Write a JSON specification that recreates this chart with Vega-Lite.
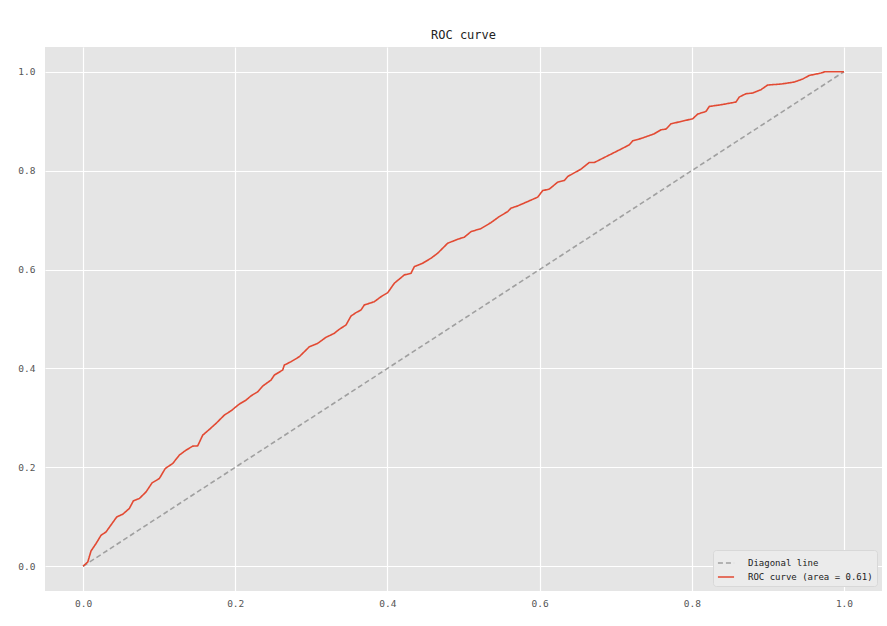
{
  "$schema": "https://vega.github.io/schema/vega-lite/v6.json",
  "width": 837,
  "height": 544,
  "autosize": {"type": "none"},
  "padding": {"left": 45, "top": 47, "right": 5, "bottom": 35},
  "background": "white",
  "title": {"text": "ROC curve", "font": "DejaVu Sans Mono", "fontSize": 12, "fontWeight": "normal", "color": "#222222", "offset": 5},
  "config": {
    "view": {"fill": "#E5E5E5", "stroke": null},
    "axis": {"domain": false, "ticks": false, "grid": true, "gridColor": "#FFFFFF", "gridWidth": 1.2, "labelFont": "DejaVu Sans Mono", "labelFontSize": 9.5, "labelColor": "#555555", "title": null}
  },
  "data": {"values": [
    {"s": "Diagonal line", "fpr": 0, "tpr": 0},
    {"s": "Diagonal line", "fpr": 1, "tpr": 1},
    {"s": "ROC curve (area = 0.61)", "fpr": 0, "tpr": 0},
    {"s": "ROC curve (area = 0.61)", "fpr": 0.0062, "tpr": 0.0087},
    {"s": "ROC curve (area = 0.61)", "fpr": 0.0105, "tpr": 0.031},
    {"s": "ROC curve (area = 0.61)", "fpr": 0.0171, "tpr": 0.046},
    {"s": "ROC curve (area = 0.61)", "fpr": 0.0237, "tpr": 0.0628},
    {"s": "ROC curve (area = 0.61)", "fpr": 0.0302, "tpr": 0.0694},
    {"s": "ROC curve (area = 0.61)", "fpr": 0.0443, "tpr": 0.0998},
    {"s": "ROC curve (area = 0.61)", "fpr": 0.0522, "tpr": 0.1053},
    {"s": "ROC curve (area = 0.61)", "fpr": 0.0608, "tpr": 0.1168},
    {"s": "ROC curve (area = 0.61)", "fpr": 0.0661, "tpr": 0.1322},
    {"s": "ROC curve (area = 0.61)", "fpr": 0.074, "tpr": 0.137},
    {"s": "ROC curve (area = 0.61)", "fpr": 0.0828, "tpr": 0.1504},
    {"s": "ROC curve (area = 0.61)", "fpr": 0.0907, "tpr": 0.1686},
    {"s": "ROC curve (area = 0.61)", "fpr": 0.1003, "tpr": 0.1775},
    {"s": "ROC curve (area = 0.61)", "fpr": 0.1081, "tpr": 0.1978},
    {"s": "ROC curve (area = 0.61)", "fpr": 0.1179, "tpr": 0.2079},
    {"s": "ROC curve (area = 0.61)", "fpr": 0.1265, "tpr": 0.2247},
    {"s": "ROC curve (area = 0.61)", "fpr": 0.1353, "tpr": 0.2348},
    {"s": "ROC curve (area = 0.61)", "fpr": 0.1442, "tpr": 0.2429},
    {"s": "ROC curve (area = 0.61)", "fpr": 0.1507, "tpr": 0.2435},
    {"s": "ROC curve (area = 0.61)", "fpr": 0.1573, "tpr": 0.2652},
    {"s": "ROC curve (area = 0.61)", "fpr": 0.166, "tpr": 0.2767},
    {"s": "ROC curve (area = 0.61)", "fpr": 0.1748, "tpr": 0.2889},
    {"s": "ROC curve (area = 0.61)", "fpr": 0.1857, "tpr": 0.3057},
    {"s": "ROC curve (area = 0.61)", "fpr": 0.1945, "tpr": 0.3144},
    {"s": "ROC curve (area = 0.61)", "fpr": 0.2054, "tpr": 0.3279},
    {"s": "ROC curve (area = 0.61)", "fpr": 0.2142, "tpr": 0.336},
    {"s": "ROC curve (area = 0.61)", "fpr": 0.2208, "tpr": 0.3447},
    {"s": "ROC curve (area = 0.61)", "fpr": 0.2296, "tpr": 0.3528},
    {"s": "ROC curve (area = 0.61)", "fpr": 0.2361, "tpr": 0.3644},
    {"s": "ROC curve (area = 0.61)", "fpr": 0.247, "tpr": 0.3765},
    {"s": "ROC curve (area = 0.61)", "fpr": 0.2514, "tpr": 0.3866},
    {"s": "ROC curve (area = 0.61)", "fpr": 0.2624, "tpr": 0.3968},
    {"s": "ROC curve (area = 0.61)", "fpr": 0.2645, "tpr": 0.4069},
    {"s": "ROC curve (area = 0.61)", "fpr": 0.2733, "tpr": 0.4136},
    {"s": "ROC curve (area = 0.61)", "fpr": 0.2842, "tpr": 0.4237},
    {"s": "ROC curve (area = 0.61)", "fpr": 0.2974, "tpr": 0.4439},
    {"s": "ROC curve (area = 0.61)", "fpr": 0.3084, "tpr": 0.4508},
    {"s": "ROC curve (area = 0.61)", "fpr": 0.3193, "tpr": 0.463},
    {"s": "ROC curve (area = 0.61)", "fpr": 0.3302, "tpr": 0.471},
    {"s": "ROC curve (area = 0.61)", "fpr": 0.3368, "tpr": 0.4792},
    {"s": "ROC curve (area = 0.61)", "fpr": 0.3456, "tpr": 0.4879},
    {"s": "ROC curve (area = 0.61)", "fpr": 0.3522, "tpr": 0.5061},
    {"s": "ROC curve (area = 0.61)", "fpr": 0.3587, "tpr": 0.5128},
    {"s": "ROC curve (area = 0.61)", "fpr": 0.3653, "tpr": 0.5182},
    {"s": "ROC curve (area = 0.61)", "fpr": 0.3696, "tpr": 0.5283},
    {"s": "ROC curve (area = 0.61)", "fpr": 0.3828, "tpr": 0.535},
    {"s": "ROC curve (area = 0.61)", "fpr": 0.3916, "tpr": 0.5451},
    {"s": "ROC curve (area = 0.61)", "fpr": 0.4004, "tpr": 0.5532},
    {"s": "ROC curve (area = 0.61)", "fpr": 0.4091, "tpr": 0.5723},
    {"s": "ROC curve (area = 0.61)", "fpr": 0.4222, "tpr": 0.5891},
    {"s": "ROC curve (area = 0.61)", "fpr": 0.431, "tpr": 0.5925},
    {"s": "ROC curve (area = 0.61)", "fpr": 0.4354, "tpr": 0.6059},
    {"s": "ROC curve (area = 0.61)", "fpr": 0.4464, "tpr": 0.6128},
    {"s": "ROC curve (area = 0.61)", "fpr": 0.4573, "tpr": 0.6229},
    {"s": "ROC curve (area = 0.61)", "fpr": 0.4661, "tpr": 0.633},
    {"s": "ROC curve (area = 0.61)", "fpr": 0.4792, "tpr": 0.6532},
    {"s": "ROC curve (area = 0.61)", "fpr": 0.4924, "tpr": 0.6613},
    {"s": "ROC curve (area = 0.61)", "fpr": 0.501, "tpr": 0.6654},
    {"s": "ROC curve (area = 0.61)", "fpr": 0.5099, "tpr": 0.6767},
    {"s": "ROC curve (area = 0.61)", "fpr": 0.523, "tpr": 0.6828},
    {"s": "ROC curve (area = 0.61)", "fpr": 0.5361, "tpr": 0.6949},
    {"s": "ROC curve (area = 0.61)", "fpr": 0.547, "tpr": 0.7071},
    {"s": "ROC curve (area = 0.61)", "fpr": 0.5581, "tpr": 0.7172},
    {"s": "ROC curve (area = 0.61)", "fpr": 0.5624, "tpr": 0.7241},
    {"s": "ROC curve (area = 0.61)", "fpr": 0.5712, "tpr": 0.7287},
    {"s": "ROC curve (area = 0.61)", "fpr": 0.5865, "tpr": 0.7389},
    {"s": "ROC curve (area = 0.61)", "fpr": 0.5975, "tpr": 0.7464},
    {"s": "ROC curve (area = 0.61)", "fpr": 0.6041, "tpr": 0.7597},
    {"s": "ROC curve (area = 0.61)", "fpr": 0.6127, "tpr": 0.7626},
    {"s": "ROC curve (area = 0.61)", "fpr": 0.6238, "tpr": 0.7767},
    {"s": "ROC curve (area = 0.61)", "fpr": 0.6325, "tpr": 0.78},
    {"s": "ROC curve (area = 0.61)", "fpr": 0.6369, "tpr": 0.7881},
    {"s": "ROC curve (area = 0.61)", "fpr": 0.6544, "tpr": 0.803},
    {"s": "ROC curve (area = 0.61)", "fpr": 0.6653, "tpr": 0.8164},
    {"s": "ROC curve (area = 0.61)", "fpr": 0.6719, "tpr": 0.8164},
    {"s": "ROC curve (area = 0.61)", "fpr": 0.6895, "tpr": 0.83},
    {"s": "ROC curve (area = 0.61)", "fpr": 0.707, "tpr": 0.8435},
    {"s": "ROC curve (area = 0.61)", "fpr": 0.7179, "tpr": 0.8522},
    {"s": "ROC curve (area = 0.61)", "fpr": 0.7224, "tpr": 0.8603},
    {"s": "ROC curve (area = 0.61)", "fpr": 0.7333, "tpr": 0.865},
    {"s": "ROC curve (area = 0.61)", "fpr": 0.7507, "tpr": 0.8745},
    {"s": "ROC curve (area = 0.61)", "fpr": 0.7595, "tpr": 0.8826},
    {"s": "ROC curve (area = 0.61)", "fpr": 0.7661, "tpr": 0.884},
    {"s": "ROC curve (area = 0.61)", "fpr": 0.7727, "tpr": 0.8947},
    {"s": "ROC curve (area = 0.61)", "fpr": 0.7858, "tpr": 0.8994},
    {"s": "ROC curve (area = 0.61)", "fpr": 0.8012, "tpr": 0.9049},
    {"s": "ROC curve (area = 0.61)", "fpr": 0.8078, "tpr": 0.9144},
    {"s": "ROC curve (area = 0.61)", "fpr": 0.8187, "tpr": 0.9197},
    {"s": "ROC curve (area = 0.61)", "fpr": 0.823, "tpr": 0.9298},
    {"s": "ROC curve (area = 0.61)", "fpr": 0.8384, "tpr": 0.9332},
    {"s": "ROC curve (area = 0.61)", "fpr": 0.8581, "tpr": 0.9387},
    {"s": "ROC curve (area = 0.61)", "fpr": 0.8624, "tpr": 0.9488},
    {"s": "ROC curve (area = 0.61)", "fpr": 0.8712, "tpr": 0.9555},
    {"s": "ROC curve (area = 0.61)", "fpr": 0.88, "tpr": 0.9569},
    {"s": "ROC curve (area = 0.61)", "fpr": 0.8909, "tpr": 0.9636},
    {"s": "ROC curve (area = 0.61)", "fpr": 0.8997, "tpr": 0.9731},
    {"s": "ROC curve (area = 0.61)", "fpr": 0.9172, "tpr": 0.9751},
    {"s": "ROC curve (area = 0.61)", "fpr": 0.9347, "tpr": 0.9791},
    {"s": "ROC curve (area = 0.61)", "fpr": 0.9457, "tpr": 0.9852},
    {"s": "ROC curve (area = 0.61)", "fpr": 0.9544, "tpr": 0.9925},
    {"s": "ROC curve (area = 0.61)", "fpr": 0.9698, "tpr": 0.9973},
    {"s": "ROC curve (area = 0.61)", "fpr": 0.975, "tpr": 1.0},
    {"s": "ROC curve (area = 0.61)", "fpr": 1.0, "tpr": 1.0}
  ]},
  "mark": {"type": "line", "strokeWidth": 1.6, "clip": true},
  "encoding": {
    "x": {"field": "fpr", "type": "quantitative", "scale": {"domain": [-0.05, 1.05], "nice": false, "zero": false}, "axis": {"values": [0, 0.2, 0.4, 0.6, 0.8, 1.0], "format": ".1f", "labelPadding": 7}},
    "y": {"field": "tpr", "type": "quantitative", "scale": {"domain": [-0.05, 1.05], "nice": false, "zero": false}, "axis": {"values": [0, 0.2, 0.4, 0.6, 0.8, 1.0], "format": ".1f", "labelPadding": 10}},
    "color": {"field": "s", "type": "nominal", "scale": {"domain": ["Diagonal line", "ROC curve (area = 0.61)"], "range": ["#A0A0A0", "#E24A33"]},
      "legend": {"title": null, "orient": "bottom-right", "offset": 5, "symbolType": "stroke", "symbolSize": 260, "symbolStrokeWidth": 1.6, "labelFont": "DejaVu Sans Mono", "labelFontSize": 9, "labelColor": "#222222", "labelOffset": 13, "fillColor": "#EBEBEB", "strokeColor": "#D8D8D8", "padding": 4, "rowPadding": 0, "cornerRadius": 3}},
    "strokeDash": {"field": "s", "type": "nominal", "scale": {"domain": ["Diagonal line", "ROC curve (area = 0.61)"], "range": [[5, 3], [1, 0]]}, "legend": null}
  }
}
